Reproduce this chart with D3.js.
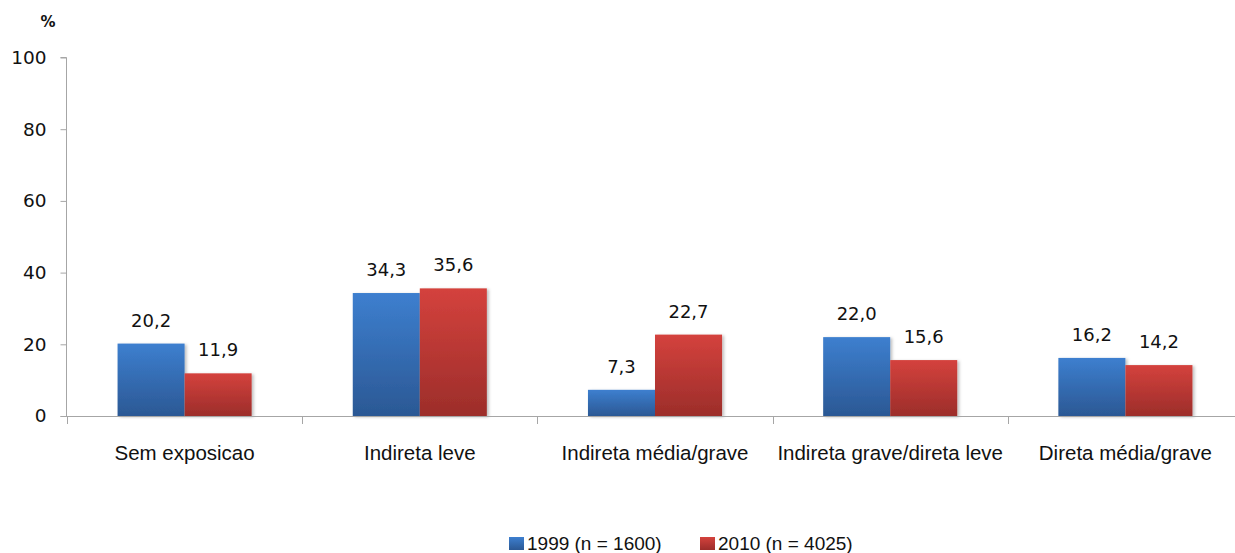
<!DOCTYPE html>
<html>
<head>
<meta charset="utf-8">
<script src="https://cdn.jsdelivr.net/npm/d3@7/dist/d3.min.js"></script>
<style>
  html, body { margin: 0; padding: 0; background: #fff; overflow: hidden; }
  svg { display: block; }
</style>
</head>
<body>
<svg id="chart" width="1235" height="553"></svg>
<script>
// Exposure categories and percentages per survey year
const categories = ["Sem exposicao", "Indireta leve", "Indireta média/grave", "Indireta grave/direta leve", "Direta média/grave"];
const values1999 = [20.2, 34.3, 7.3, 22.0, 16.2];
const values2010 = [11.9, 35.6, 22.7, 15.6, 14.2];
const seriesNames = ["1999 (n = 1600)", "2010 (n = 4025)"];
const yTicks = [0, 20, 40, 60, 80, 100];

const W = 1235, H = 553;
const svg = d3.select("#chart");

const x = d3.scaleBand().domain(categories).range([67, 1243]).paddingInner(0).paddingOuter(0);
const y = d3.scaleLinear().domain([0, 100]).range([416, 57.5]);
const barW = x.bandwidth() * 0.285;

const series = [
  { name: seriesNames[0], values: values1999, top: "#3d7fcf", bottom: "#2b5894", id: "gBlue" },
  { name: seriesNames[1], values: values2010, top: "#d4423d", bottom: "#9c2d2a", id: "gRed" }
];

const defs = svg.append("defs");
series.forEach(s => {
  const g = defs.append("linearGradient").attr("id", s.id).attr("x1", 0).attr("y1", 0).attr("x2", 0).attr("y2", 1);
  g.append("stop").attr("offset", "0%").attr("stop-color", s.top);
  g.append("stop").attr("offset", "100%").attr("stop-color", s.bottom);
});
const shadow = defs.append("filter").attr("id", "shadow").attr("x", "-10%").attr("y", "-10%").attr("width", "130%").attr("height", "130%");
shadow.append("feDropShadow").attr("dx", 2).attr("dy", 1).attr("stdDeviation", 1.5).attr("flood-color", "#000").attr("flood-opacity", 0.25);

const axisColor = "#a6a6a6";

// Y axis
const yAxis = d3.axisLeft(y).tickValues(yTicks).tickSize(6).tickPadding(14).tickFormat(d3.format("d"));
const gy = svg.append("g").attr("transform", "translate(66.5,0)").call(yAxis);
gy.select(".domain").attr("stroke", axisColor).attr("d", `M-6,${y(100)}H0V${y(0)}`);
gy.selectAll(".tick line").attr("stroke", axisColor);
gy.selectAll(".tick text").attr("font-family", "DejaVu Sans").attr("font-size", 18.5).attr("fill", "#111");

// Unit label
svg.append("text").attr("x", 48).attr("y", 27).attr("text-anchor", "middle")
  .attr("font-family", "DejaVu Sans").attr("font-weight", "bold").attr("font-size", 15).attr("fill", "#111").text("%");

// Bars
const groups = svg.append("g").selectAll("g").data(series).join("g");
groups.each(function (s, si) {
  d3.select(this).selectAll("rect").data(categories).join("rect")
    .attr("x", c => x(c) + x.bandwidth() / 2 - barW + si * barW)
    .attr("width", barW)
    .attr("y", (c, i) => y(s.values[i]))
    .attr("height", (c, i) => y(0) - y(s.values[i]))
    .attr("fill", `url(#${s.id})`)
    .attr("filter", "url(#shadow)");
});

// Value labels
groups.each(function (s, si) {
  d3.select(this).selectAll("text").data(categories).join("text")
    .attr("x", c => x(c) + x.bandwidth() / 2 - barW / 2 + si * barW)
    .attr("y", (c, i) => y(s.values[i]) - 17)
    .attr("text-anchor", "middle")
    .attr("font-family", "DejaVu Sans").attr("font-size", 18).attr("fill", "#111")
    .text((c, i) => d3.format(".1f")(s.values[i]).replace(".", ","));
});

// X axis with ticks on category boundaries
const gx = svg.append("g");
gx.append("line").attr("x1", 60.5).attr("x2", W).attr("y1", y(0) + 0.5).attr("y2", y(0) + 0.5).attr("stroke", axisColor);
const bounds = categories.map(c => x(c)).concat([x.range()[1]]);
gx.selectAll("line.tk").data(bounds).join("line").attr("class", "tk")
  .attr("x1", d => Math.round(d) + 0.5).attr("x2", d => Math.round(d) + 0.5)
  .attr("y1", y(0)).attr("y2", y(0) + 8).attr("stroke", axisColor);
gx.selectAll("text").data(categories).join("text")
  .attr("x", c => x(c) + x.bandwidth() / 2).attr("y", 460)
  .attr("text-anchor", "middle")
  .attr("font-family", "Liberation Sans Narrow, Arial Narrow, sans-serif").attr("font-size", 20.5).attr("fill", "#111")
  .text(c => c);

// Legend
const legendX = [509, 700];
const lg = svg.append("g").selectAll("g").data(series).join("g")
  .attr("transform", (s, i) => `translate(${legendX[i]},0)`);
lg.append("rect").attr("x", 0).attr("y", 537).attr("width", 15).attr("height", 13).attr("fill", s => `url(#${s.id})`);
lg.append("text").attr("x", 18).attr("y", 550)
  .attr("font-family", "Liberation Sans Narrow, Arial Narrow, sans-serif").attr("font-size", 19).attr("fill", "#111")
  .text(s => s.name);
</script>
</body>
</html>
